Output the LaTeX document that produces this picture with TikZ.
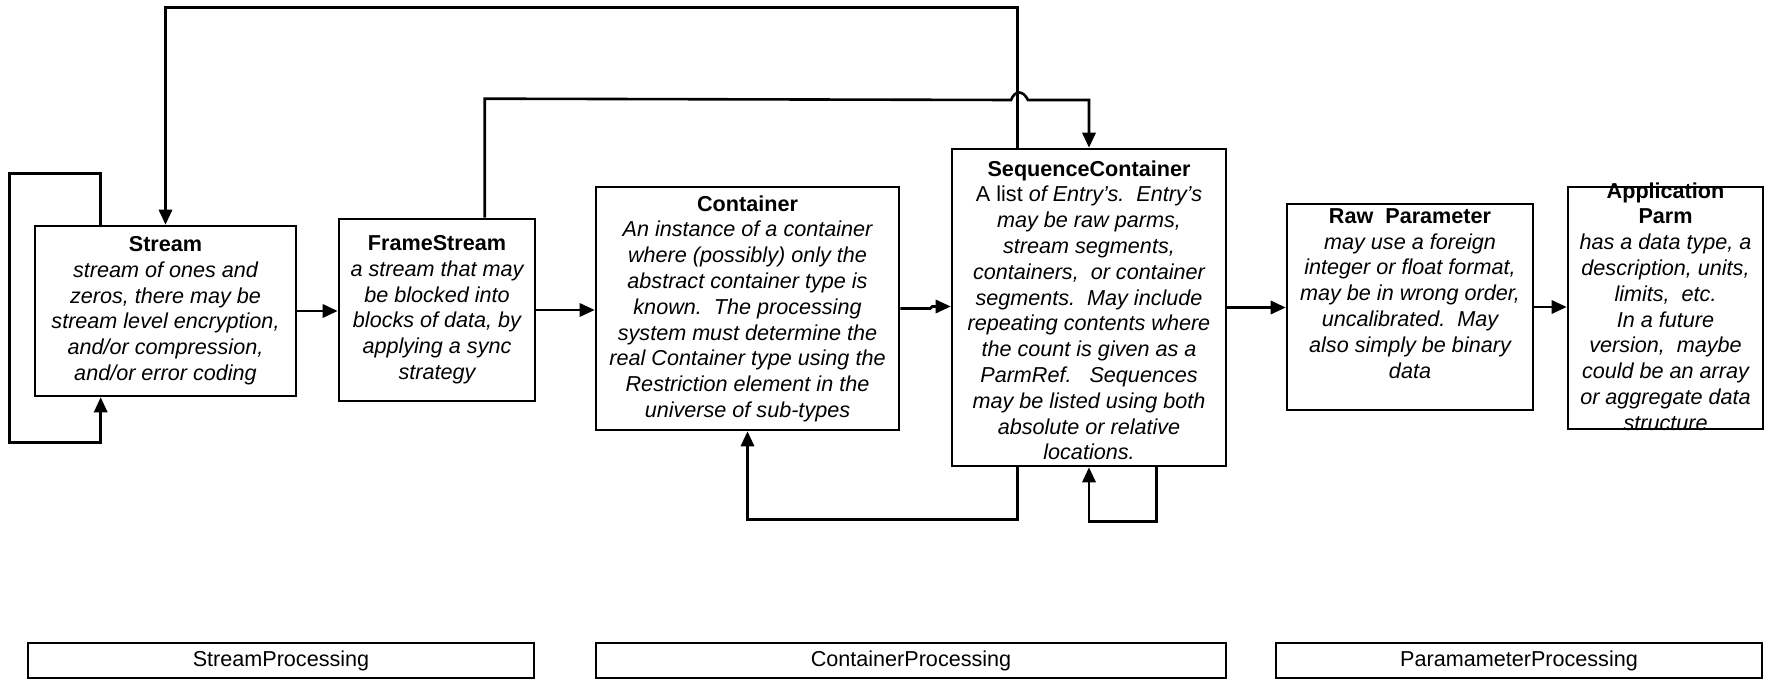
\documentclass[tikz,border=0pt]{standalone}
\usepackage{fontspec}
\setmainfont{Liberation Sans}
\usetikzlibrary{arrows.meta}

% bold upright heading inside an italic block
\newcommand\boxhead[1]{{\upshape\bfseries #1}}

\tikzset{
  ln/.style={line width=1.3pt},
  arr/.style={ln, -{Triangle[length=7.5pt,width=6.6pt]}},
  box/.style={draw, ln, rectangle, inner sep=0pt},
  desc/.style={inner sep=0pt, align=center, anchor=north,
    font=\fontsize{10.8pt}{12.9pt}\selectfont\itshape},
  bar/.style={draw, line width=0.8pt, rectangle, inner sep=0pt,
    minimum height=17.5pt, font=\fontsize{10.8pt}{12.9pt}\selectfont},
}

\begin{document}
\begin{tikzpicture}[x=0.5pt, y=-0.5pt]
\useasboundingbox (0,0) rectangle (1766,679);

% boxes (coordinates in pixels, y pointing down)
\node[box, minimum width=130.5pt, minimum height=85pt]   (S) at (165.5,311) {};
\node[box, minimum width=98pt,    minimum height=91pt]   (F) at (437,310) {};
\node[box, minimum width=151.5pt, minimum height=121.5pt] (C) at (747.5,308.5) {};
\node[box, minimum width=137pt,   minimum height=158.5pt] (Q) at (1089,307.5) {};
\node[box, minimum width=123pt,   minimum height=103pt]  (R) at (1410,307) {};
\node[box, minimum width=97.5pt,  minimum height=121pt]  (A) at (1665.5,308) {};

% descriptions
\node[desc] (St) at (165.5,236) {\boxhead{Stream}\\stream of ones and\\zeros, there may be\\stream level encryption,\\and/or compression,\\and/or error coding};
\node[desc] (Ft) at (437,235) {\boxhead{FrameStream}\\a stream that may\\be blocked into\\blocks of data, by\\applying a sync\\strategy};
\node[desc] (Ct) at (747.5,195) {\boxhead{Container}\\An instance of a container\\where (possibly) only the\\abstract container type is\\known.\ \ The processing\\system must determine the\\real Container type using the\\Restriction element in the\\universe of sub-types};
\node[desc] (Qt) at (1089,160) {\boxhead{SequenceContainer}\\{\upshape A list} of Entry’s.\ \ Entry’s\\may be raw parms,\\stream segments,\\containers,\ \ or container\\segments.\ \ May include\\repeating contents where\\the count is given as a\\ParmRef.\ \ \ Sequences\\may be listed using both\\absolute or relative\\locations.};
\node[desc] (Rt) at (1410,208) {\boxhead{Raw\ \ Parameter}\\may use a foreign\\integer or float format,\\may be in wrong order,\\uncalibrated.\ \ May\\also simply be binary\\data};
\begin{scope}
  \clip ([xshift=-10pt]A.south west) rectangle ([shift={(10pt,30pt)}]A.north east);
  \node[desc] (At) at (1665.5,182) {\boxhead{Application}\\\boxhead{Parm}\\has a data type, a\\description, units,\\limits,\ \ etc.\\In a future\\version,\ \ maybe\\could be an array\\or aggregate data\\structure};
\end{scope}

% processing bars
\node[bar, minimum width=253pt] (P1) at (281,660.5)  {StreamProcessing};
\node[bar, minimum width=315pt] (P2) at (911,660.5)  {ContainerProcessing};
\node[bar, minimum width=243pt] (P3) at (1519,660.5) {ParamameterProcessing};

% main flow
\draw[arr] (S.east) -- (S.east -| F.west);
\draw[arr] (F.east) -- (F.east -| C.west);
\draw[arr] (C.east) -- ++(30,0) -- ++(2,-2) coordinate (cj) -- (cj -| Q.west);
\draw[arr] (Q.east) -- (Q.east -| R.west);
\draw[arr] (R.east) -- (R.east -| A.west);

% Stream loops back onto itself
\draw[arr] ([xshift=33.5pt]S.north west) -- ++(0,-51) -- ++(-91,0) -- ++(0,269)
  -| ([xshift=33.5pt]S.south west);

% SequenceContainer back to Stream
\draw[arr] ([xshift=33.5pt]Q.north west) -- ++(0,-140) -| (S.north);

% FrameStream forward to SequenceContainer, hopping over the line above
\draw[arr] ([xshift=73.5pt]F.north west) -- ++(0,-119) -- (1011,100)
  .. controls (1015,90) and (1023,90) .. (1028,100) -| (Q.north);

% SequenceContainer back to Container
\draw[arr] ([xshift=33.5pt]Q.south west) -- ++(0,52) -| (C.south);

% SequenceContainer loops back onto itself
\draw[arr] ([xshift=103pt]Q.south west) -- ++(0,54) -| (Q.south);
\end{tikzpicture}
\end{document}
